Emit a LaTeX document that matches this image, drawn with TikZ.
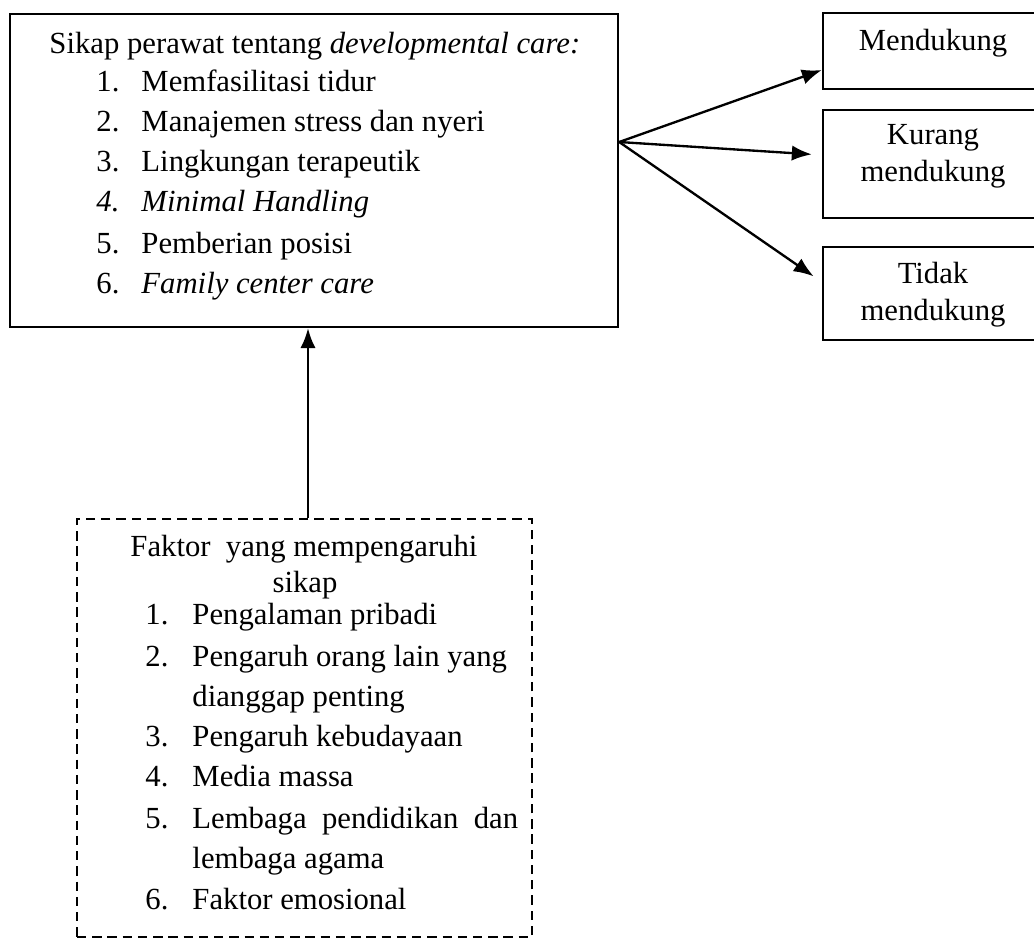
\documentclass[tikz,border=0pt]{standalone}
\usepackage{fontspec}
\setmainfont{Liberation Serif}
\usetikzlibrary{arrows.meta}
\begin{document}
\begin{tikzpicture}[x=0.015cm, y=-0.015cm, font=\fontsize{13.1}{15.7}\selectfont]
\tikzset{
  box/.style={draw, line width=1pt, inner sep=0pt},
  dashbox/.style={draw, line width=0.9pt, dash pattern=on 4pt off 2.5pt, inner sep=0pt},
  txt/.style={anchor=west, inner sep=0pt, text height=1.6ex, text depth=.4ex},
  label/.style={align=center, inner sep=0pt},
  arrow/.style={-{Latex[length=3mm,width=2.3mm]}, line width=1pt}
}
\useasboundingbox (0,0) rectangle (1034,940);
\clip (0,0) rectangle (1034,940);

% boxes
\node[box, minimum width=9.12cm, minimum height=4.695cm] (sikap) at (314,170.5) {};
\node[box, minimum width=4.2cm, minimum height=1.14cm] (mendukung) at (963,51) {};
\node[box, minimum width=4.2cm, minimum height=1.62cm] (kurang) at (963,164) {};
\node[box, minimum width=4.2cm, minimum height=1.395cm] (tidak) at (963,293.5) {};
\node[dashbox, minimum width=6.825cm, minimum height=6.27cm] (faktor) at (304.5,728) {};

% sikap perawat
\node[txt] (judul) at (49,47) {Sikap perawat tentang \textit{developmental care:}};
\node[txt] (n1) at (96,85) {1.};
\node[txt] (s1) at (141,85) {Memfasilitasi tidur};
\node[txt] (n2) at (96,125) {2.};
\node[txt] (s2) at (141,125) {Manajemen stress dan nyeri};
\node[txt] (n3) at (96,165) {3.};
\node[txt] (s3) at (141,165) {Lingkungan terapeutik};
\node[txt] (n4) at (96,205) {\textit{4.}};
\node[txt] (s4) at (141,205) {\textit{Minimal Handling}};
\node[txt] (n5) at (96,247) {5.};
\node[txt] (s5) at (141,247) {Pemberian posisi};
\node[txt] (n6) at (96,287) {6.};
\node[txt] (s6) at (141,287) {\textit{Family center care}};

% hasil
\node[label] (l1) at (933,43) {Mendukung};
\node[label] (l2) at (933,156.5) {Kurang\\mendukung};
\node[label] (l3) at (933,295) {Tidak\\mendukung};

% faktor
\node[txt] (fjudul) at (130,550) {Faktor\ \ yang mempengaruhi};
\node[label] (fsikap) at (305,585) {sikap};
\node[txt] (f1) at (145,618) {1.};
\node[txt] (g1) at (192,618) {Pengalaman pribadi};
\node[txt] (f2) at (145,660) {2.};
\node[txt] (g2) at (192,660) {Pengaruh orang lain yang};
\node[txt] (g2b) at (192,700) {dianggap penting};
\node[txt] (f3) at (145,740) {3.};
\node[txt] (g3) at (192,740) {Pengaruh kebudayaan};
\node[txt] (f4) at (145,780) {4.};
\node[txt] (g4) at (192,780) {Media massa};
\node[txt] (f5) at (145,822) {5.};
\node[txt] (g5) at (192,822) {Lembaga\ \ pendidikan\ \ dan};
\node[txt] (g5b) at (192,862) {lembaga agama};
\node[txt] (f6) at (145,903) {6.};
\node[txt] (g6) at (192,903) {Faktor emosional};

% arrows
\draw[arrow] (sikap.east |- 0,142) -- (mendukung.west |- 0,70);
\draw[arrow, shorten >=0.15cm] (sikap.east |- 0,142) -- (kurang.west |- 0,155);
\draw[arrow, shorten >=0.15cm] (sikap.east |- 0,142) -- (tidak.west |- 0,282);
\draw[arrow] (faktor.north -| 308,0) -- (sikap.south -| 308,0);

\end{tikzpicture}
\end{document}
